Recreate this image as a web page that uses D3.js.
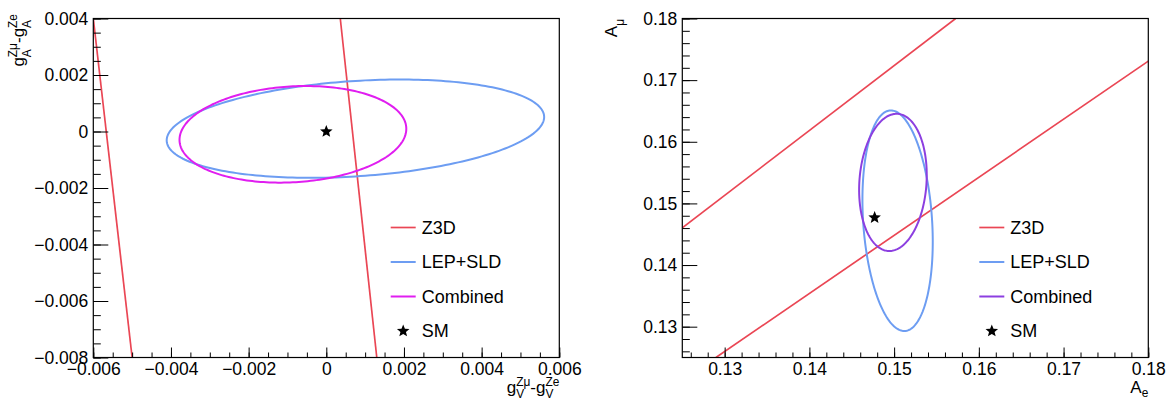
<!DOCTYPE html>
<html><head><meta charset="utf-8">
<script src="https://cdn.jsdelivr.net/npm/d3@7"></script>
<style>
body{margin:0;background:#fff}
svg{display:block}
text{font-family:"Liberation Sans",Arial,Helvetica,sans-serif;fill:#000}
</style>
</head><body>
<svg id="c" width="1167" height="401"></svg>
<script>
// ---------------- DATA ----------------
const legendLabels = ["Z3D", "LEP+SLD", "Combined", "SM"];

// Left panel: g_V^{Zmu}-g_V^{Ze} (x) vs g_A^{Zmu}-g_A^{Ze} (y)
const leftXDomain = [-0.006, 0.006];
const leftYDomain = [-0.008, 0.004];
const leftXTicks = [-0.006, -0.004, -0.002, 0, 0.002, 0.004, 0.006];
const leftXTickLabels = ["\u22120.006", "\u22120.004", "\u22120.002", "0", "0.002", "0.004", "0.006"];
const leftYTicks = [-0.008, -0.006, -0.004, -0.002, 0, 0.002, 0.004];
const leftYTickLabels = ["\u22120.008", "\u22120.006", "\u22120.004", "\u22120.002", "0", "0.002", "0.004"];
const leftMinorStep = 0.0005;
// Z3D band edges: [[x1,y1],[x2,y2]]
const leftZ3D = [
  [[-0.006, 0.004], [-0.00500, -0.008]],
  [[0.00036, 0.004], [0.00130, -0.008]]
];
// ellipses: [centre x, centre y, half-width x, half-height y, correlation]
const leftLEPSLD = [0.00075, 0.0001, 0.00486, 0.00174, 0.237];
const leftCombined = [-0.00086, -0.0001, 0.00292, 0.00171, 0.114];
const leftSM = [0, 0];

// Right panel: A_e (x) vs A_mu (y)
const rightXDomain = [0.125, 0.18];
const rightYDomain = [0.125, 0.18];
const rightTicks = [0.13, 0.14, 0.15, 0.16, 0.17, 0.18];
const rightTickLabels = ["0.13", "0.14", "0.15", "0.16", "0.17", "0.18"];
const rightMinorStep = 0.002;
const rightZ3D = [
  [[0.125, 0.14605], [0.15726, 0.18]],
  [[0.12897, 0.125], [0.18, 0.17308]]
];
const rightLEPSLD = [0.15041, 0.14719, 0.00415, 0.01789, -0.19];
const rightCombined = [0.14986, 0.15341, 0.00399, 0.01113, 0.108];
const rightSM = [0.1477, 0.1477];

// ---------------- STYLE ----------------
const FS = 17.5;
const colZ3D = "#ea4654";
const colLEP = "#6d9df2";
const colCombLeft = "#e01ef0";
const colCombRight = "#8c3fe0";
const FONT = '"Liberation Sans",Arial,Helvetica,sans-serif';

const svg = d3.select("#c");

// five-pointed full star marker (outer radius R, inner radius r)
function starPath(R, r) {
  const pts = [];
  for (let i = 0; i < 10; i++) {
    const a = -Math.PI / 2 + i * Math.PI / 5;
    const rr = i % 2 === 0 ? R : r;
    pts.push([rr * Math.cos(a), rr * Math.sin(a)]);
  }
  return d3.line()(pts) + "Z";
}
const STAR = starPath(6.6, 2.9);

function minorTicks(domain, step) {
  const out = [];
  const n0 = Math.ceil(domain[0] / step - 1e-6), n1 = Math.floor(domain[1] / step + 1e-6);
  for (let i = n0; i <= n1; i++) out.push(+(i * step).toFixed(6));
  return out;
}

function rich(g, segs, fs, subShift, supShift) {
  let x = 0;
  segs.forEach(s => {
    const b = g.append("text").attr("x", x).attr("y", 0).attr("font-size", fs).text(s.base);
    x += b.node().getComputedTextLength();
    let w = 0;
    if (s.sub) {
      const t = g.append("text").attr("x", x).attr("y", fs * subShift).attr("font-size", fs * 0.7).text(s.sub);
      w = Math.max(w, t.node().getComputedTextLength());
    }
    if (s.sup) {
      const t = g.append("text").attr("x", x).attr("y", -fs * supShift).attr("font-size", fs * 0.7).text(s.sup);
      w = Math.max(w, t.node().getComputedTextLength());
    }
    x += w;
  });
  return x;
}

function ellipsePts(e) {
  const [cx, cy, sx, sy, r] = e;
  const pts = [];
  const q = Math.sqrt(1 - r * r);
  for (let i = 0; i <= 240; i++) {
    const t = i / 240 * 2 * Math.PI;
    pts.push([cx + sx * Math.cos(t), cy + sy * (r * Math.cos(t) + q * Math.sin(t))]);
  }
  return pts;
}

function panel(opt) {
  const {x0, x1, y0, y1, id} = opt;
  const x = d3.scaleLinear().domain(opt.xDomain).range([x0, x1]);
  const y = d3.scaleLinear().domain(opt.yDomain).range([y1, y0]);
  const g = svg.append("g");

  g.append("clipPath").attr("id", id).append("rect")
    .attr("x", x0).attr("y", y0).attr("width", x1 - x0).attr("height", y1 - y0);
  const plot = g.append("g").attr("clip-path", `url(#${id})`);
  const line = d3.line().x(d => x(d[0])).y(d => y(d[1]));

  opt.z3d.forEach(seg => {
    plot.append("path").attr("d", line(seg)).attr("fill", "none")
      .attr("stroke", colZ3D).attr("stroke-width", 1.7);
  });
  plot.append("path").attr("d", line(ellipsePts(opt.lep))).attr("fill", "none")
    .attr("stroke", colLEP).attr("stroke-width", 2);
  plot.append("path").attr("d", line(ellipsePts(opt.comb))).attr("fill", "none")
    .attr("stroke", opt.combColor).attr("stroke-width", 2);
  plot.append("path").attr("d", STAR)
    .attr("transform", `translate(${x(opt.sm[0])},${y(opt.sm[1])})`).attr("fill", "#000");

  const xAxis = g.append("g").attr("transform", `translate(0,${y1})`)
    .call(d3.axisBottom(x).tickValues(opt.xTicks).tickFormat((d, i) => opt.xLabels[i])
      .tickSize(-10).tickSizeOuter(0).tickPadding(5.5));
  const xMinor = g.append("g").attr("transform", `translate(0,${y1})`)
    .call(d3.axisBottom(x).tickValues(minorTicks(opt.xDomain, opt.minor)).tickFormat("")
      .tickSize(-5).tickSizeOuter(0));
  const yAxis = g.append("g").attr("transform", `translate(${x0},0)`)
    .call(d3.axisLeft(y).tickValues(opt.yTicks).tickFormat((d, i) => opt.yLabels[i])
      .tickSize(-15).tickSizeOuter(0).tickPadding(5));
  const yMinor = g.append("g").attr("transform", `translate(${x0},0)`)
    .call(d3.axisLeft(y).tickValues(minorTicks(opt.yDomain, opt.minor)).tickFormat("")
      .tickSize(-7.5).tickSizeOuter(0));
  [xAxis, xMinor, yAxis, yMinor].forEach(a => {
    a.attr("font-size", FS).attr("font-family", FONT);
    a.select(".domain").remove();
    a.selectAll("line").attr("stroke", "#000").attr("stroke-width", 1);
    a.selectAll("text").attr("fill", "#000");
  });

  g.append("rect").attr("x", x0).attr("y", y0).attr("width", x1 - x0).attr("height", y1 - y0)
    .attr("fill", "none").attr("stroke", "#000").attr("stroke-width", 1.2);

  const lg = g.append("g");
  const rowsY = [227.5, 262, 296.5, 331];
  const cols = [colZ3D, colLEP, opt.combColor];
  legendLabels.forEach((lab, i) => {
    const ry = rowsY[i];
    if (i < 3) {
      lg.append("line").attr("x1", opt.legX).attr("x2", opt.legX + 25).attr("y1", ry).attr("y2", ry)
        .attr("stroke", cols[i]).attr("stroke-width", i === 0 ? 1.7 : 2);
    } else {
      lg.append("path").attr("d", STAR)
        .attr("transform", `translate(${opt.legX + 12.5},${ry})`).attr("fill", "#000");
    }
    lg.append("text").attr("x", opt.legX + 31).attr("y", ry + 6.3).attr("font-size", 18).text(lab);
  });

  const xt = g.append("g");
  const wX = rich(xt, opt.xTitle, 17, opt.xSub, 0.40);
  xt.attr("transform", `translate(${x1 - wX},${opt.xTitleY})`);
  const yt = g.append("g");
  const wY = rich(yt, opt.yTitle, 17, 0.39, 0.44);
  yt.attr("transform", `translate(${opt.yTitleX},${opt.yTitleEnd}) rotate(-90) translate(${-wY},0)`);
}

panel({
  id: "clipL", x0: 93.3, x1: 559.3, y0: 18.5, y1: 357.5,
  xDomain: leftXDomain, yDomain: leftYDomain,
  xTicks: leftXTicks, xLabels: leftXTickLabels,
  yTicks: leftYTicks, yLabels: leftYTickLabels,
  minor: leftMinorStep,
  z3d: leftZ3D, lep: leftLEPSLD, comb: leftCombined, combColor: colCombLeft, sm: leftSM,
  legX: 390.7,
  xTitle: [{base: "g", sub: "V", sup: "Z\u03bc"}, {base: "-g", sub: "V", sup: "Ze"}], xTitleY: 392.5, xSub: 0.32,
  yTitle: [{base: "g", sub: "A", sup: "Z\u03bc"}, {base: "-g", sub: "A", sup: "Ze"}], yTitleX: 24, yTitleEnd: 14
});

panel({
  id: "clipR", x0: 682.3, x1: 1148.3, y0: 18.5, y1: 357.5,
  xDomain: rightXDomain, yDomain: rightYDomain,
  xTicks: rightTicks, xLabels: rightTickLabels,
  yTicks: rightTicks, yLabels: rightTickLabels,
  minor: rightMinorStep,
  z3d: rightZ3D, lep: rightLEPSLD, comb: rightCombined, combColor: colCombRight, sm: rightSM,
  legX: 979.3,
  xTitle: [{base: "A", sub: "e"}], xTitleY: 392.5, xSub: 0.28,
  yTitle: [{base: "A", sub: "\u03bc"}], yTitleX: 617, yTitleEnd: 19
});
</script>
</body></html>
